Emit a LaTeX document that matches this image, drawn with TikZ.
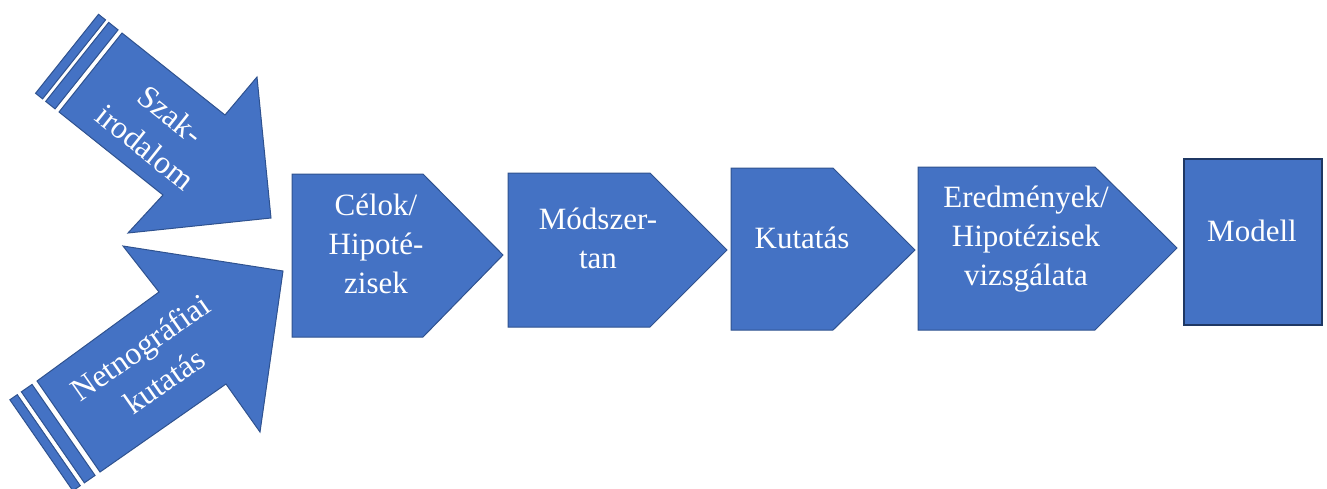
\documentclass[tikz,border=0pt]{standalone}
\usepackage{fontspec}
\setmainfont{Liberation Serif}
\usetikzlibrary{calc}
\definecolor{boxblue}{HTML}{4472C4}
\definecolor{boxedge}{HTML}{2F528F}
\definecolor{modelledge}{HTML}{1F3864}

\begin{document}
\begin{tikzpicture}[x=1pt,y=-1pt,
  blueshape/.style={fill=boxblue,draw=boxedge,line width=1pt,line join=miter},
  boxlabel/.style={text=white,align=center,inner sep=0pt,
    font=\fontsize{31}{39}\selectfont},
  arrowlabel/.style={boxlabel,font=\fontsize{32}{41}\selectfont}]
\useasboundingbox (0,0) rectangle (1327,488);
\clip (0,0) rectangle (1327,488);

% upper input arrow (pointing down-right) with its two tail stripes
\coordinate (ua) at (122,33);
\coordinate (ub) at (59,112);
\filldraw[blueshape] (ua) -- (225,115) -- (257,77) -- (271,218)
  -- (128,233) -- (163,195) -- (ub) -- cycle;
\foreach \near/\far in {5/17,21/30}
  \filldraw[blueshape] ($(ua)+\near*(-0.782,-0.624)$) -- ($(ua)+\far*(-0.782,-0.624)$)
    -- ($(ub)+\far*(-0.782,-0.624)$) -- ($(ub)+\near*(-0.782,-0.624)$) -- cycle;

% lower input arrow (pointing up-right) with its two tail stripes
\coordinate (la) at (37,381);
\coordinate (lb) at (100,472);
\filldraw[blueshape] (la) -- (159,292) -- (123,246) -- (283,271)
  -- (260,432) -- (226,384) -- (lb) -- cycle;
\foreach \near/\far in {6/19,24/33}
  \filldraw[blueshape] ($(la)+\near*(-0.822,0.569)$) -- ($(la)+\far*(-0.822,0.569)$)
    -- ($(lb)+\far*(-0.822,0.569)$) -- ($(lb)+\near*(-0.822,0.569)$) -- cycle;

\node[arrowlabel,rotate=-38.6] (szak) at (158,131) {Szak-\\irodalom};
\node[arrowlabel,rotate=35] (netno) at (152,364) {Netnográfiai\\kutatás};

% process chevrons
\filldraw[blueshape] (292,174) -- (423,174) -- (503,255) -- (423,337) -- (292,337) -- cycle;
\filldraw[blueshape] (508,173) -- (650,173) -- (727,250) -- (650,327) -- (508,327) -- cycle;
\filldraw[blueshape] (731,168) -- (833,168) -- (915,250) -- (833,330) -- (731,330) -- cycle;
\filldraw[blueshape] (918,167) -- (1095,167) -- (1177,248) -- (1095,330) -- (918,330) -- cycle;

% final result box
\filldraw[fill=boxblue,draw=modelledge,line width=2.5pt] (1184,159) rectangle (1322,325);

% labels, placed by the baseline of their last line
\node[boxlabel,anchor=base] (celok) at (376,293) {Célok/\\Hipoté-\\zisek};
\node[boxlabel,anchor=base] (modszer) at (598,268) {Módszer-\\tan};
\node[boxlabel,anchor=base] (kutatas) at (802,248) {Kutatás};
\node[boxlabel,anchor=base] (eredm) at (1026,285) {Eredmények/\\Hipotézisek\\vizsgálata};
\node[boxlabel,anchor=base] (modell) at (1252,241) {Modell};
\end{tikzpicture}
\end{document}
